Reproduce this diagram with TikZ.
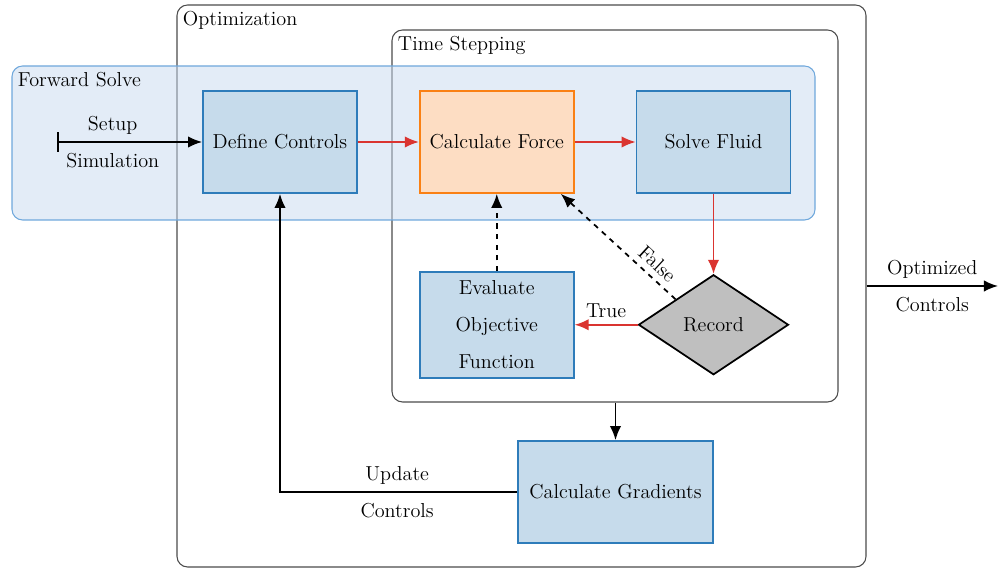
\documentclass[tikz,border=0pt]{standalone}
\usepackage{xcolor}
\usepackage{amsmath}
\usepackage{tikz}
\usetikzlibrary{shapes.geometric, arrows.meta, positioning, calc}

\definecolor{boxfill}{RGB}{198,219,235}
\definecolor{boxline}{RGB}{46,124,186}
\definecolor{forcefill}{RGB}{253,221,195}
\definecolor{forceline}{RGB}{250,128,20}
\definecolor{fwdfill}{RGB}{199,217,239}
\definecolor{fwdline}{RGB}{111,168,220}
\definecolor{flowred}{RGB}{218,52,48}

\begin{document}
\begin{tikzpicture}[
    font=\fontsize{11.5}{13.5}\selectfont,
    box/.style={rectangle, draw=boxline, fill=boxfill, line width=1pt, minimum width=3.08cm, minimum height=2.04cm, align=center},
    force/.style={box, draw=forceline, fill=forcefill},
    decision/.style={diamond, draw, fill=gray!50, line width=1pt, minimum width=3cm, minimum height=2cm, inner sep=0pt},
    group/.style={rectangle, draw=black!70, rounded corners=6pt, line width=0.6pt},
    grouptitle/.style={anchor=north west, inner sep=3.5pt},
    twoline/.style={align=center, font=\fontsize{11.5}{21}\selectfont},
    arr/.style={-{Latex[length=8pt, width=6.5pt]}, line width=1pt},
    redarr/.style={arr, flowred},
    dasharr/.style={arr, dashed},
]
    \useasboundingbox (0,0) rectangle (19.98,11.38);

    % Loops
    \node[group, minimum width=13.78cm, minimum height=11.24cm] (optim) at (10.43,5.66) {};
    \node[group, minimum width=8.92cm, minimum height=7.44cm] (timestep) at (12.3,7.06) {};
    \node[group, draw=fwdline, fill=fwdfill, fill opacity=0.5, minimum width=16.06cm, minimum height=3.08cm] (fwd) at (8.27,8.52) {};

    % Titles
    \node[grouptitle] (optimtitle) at (optim.north west) {Optimization};
    \node[grouptitle] (timesteptitle) at (timestep.north west) {Time Stepping};
    \node[grouptitle] (fwdtitle) at (fwd.north west) {Forward Solve};

    % Forward solve steps
    \node[box] (defctrl) at (5.6,8.54) {Define Controls};
    \node[force, right=1.22cm of defctrl] (calcforce) {Calculate Force};
    \node[box, right=1.22cm of calcforce] (solvefluid) {Solve Fluid};

    % Recording
    \node[box, twoline, minimum height=2.12cm, below=1.54cm of calcforce] (evaluate) {Evaluate\\Objective\\Function};
    \node[decision] (record) at (solvefluid |- evaluate) {Record};

    % Gradients
    \node[box, minimum width=3.9cm] (calcgrad) at (12.31,1.54) {Calculate Gradients};

    \coordinate (setupstart) at (1.14,8.54);
    \coordinate (optout) at (19.96,5.66);

    % Arrows
    \draw[arr, {Bar[width=11pt]}-{Latex[length=8pt, width=6.5pt]}] (setupstart) -- node[twoline, pos=0.384] {Setup\\Simulation} (defctrl);
    \draw[redarr] (defctrl) -- (calcforce);
    \draw[redarr] (calcforce) -- (solvefluid);
    \draw[redarr] (solvefluid) -- (record);
    \draw[redarr] (record) -- node[above, text=black] {True} (evaluate);
    \draw[dasharr] (evaluate) -- (calcforce);
    \draw[dasharr] (record.north west) -- node[sloped, above, pos=0.24] {False} (calcforce.-39);
    \draw[arr] (calcgrad.north |- timestep.south) -- (calcgrad.north);
    \draw[arr] (calcgrad.west) -| node[twoline, pos=0.253] {Update\\Controls} (defctrl.south);
    \draw[arr] (optim.east) -- node[twoline] {Optimized\\Controls} (optout);
\end{tikzpicture}
\end{document}
